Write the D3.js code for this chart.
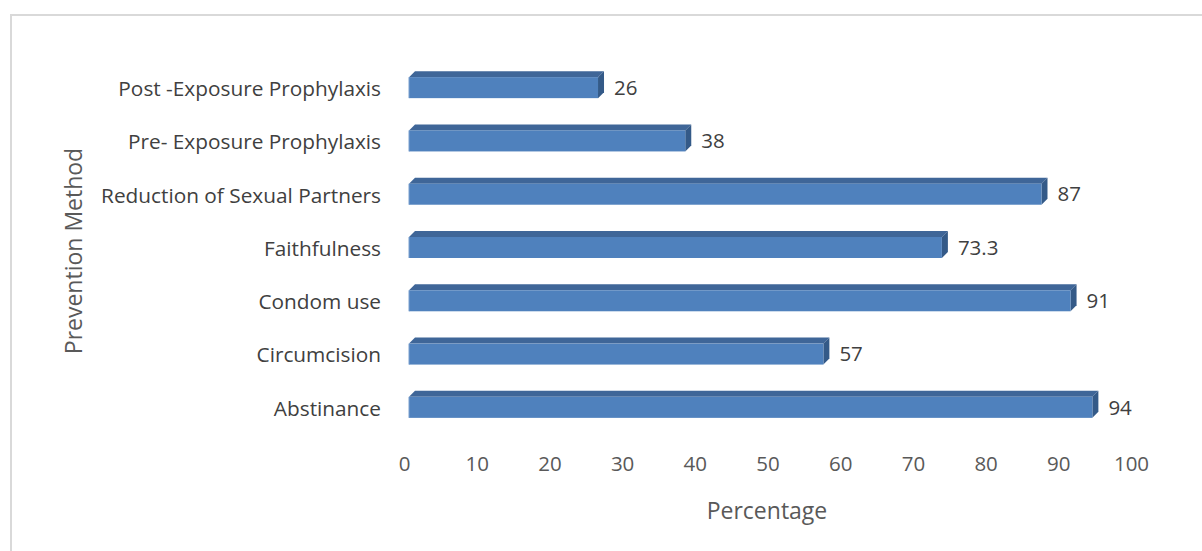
<!DOCTYPE html>
<html><head><meta charset="utf-8">
<script src="https://cdn.jsdelivr.net/npm/d3@7"></script>
<style>body{margin:0;background:#fff}svg{display:block}text{font-family:"Open Sans",Lato,sans-serif}</style>
</head><body>
<svg id="c" width="1202" height="551"></svg>
<script>
const categories = ["Post -Exposure Prophylaxis","Pre- Exposure Prophylaxis","Reduction of Sexual Partners","Faithfulness","Condom use","Circumcision","Abstinance"];
const values = [26, 38, 87, 73.3, 91, 57, 94];
const valueLabels = ["26","38","87","73.3","91","57","94"];
const ticks = [0,10,20,30,40,50,60,70,80,90,100];
const xTitle = "Percentage";
const yTitle = "Prevention Method";

const svg = d3.select("#c");
svg.append("rect").attr("x",11).attr("y",15).attr("width",1200).attr("height",545)
  .attr("fill","#fff").attr("stroke","#d9d9d9").attr("stroke-width",2);

const x = d3.scaleLinear().domain([0,100]).range([406,1133]);
const y = d3.scaleBand().domain(categories).range([61,434]).paddingInner(0.6).paddingOuter(0.3);
const off = 3, dep = 6;

const g = svg.append("g");
categories.forEach((c,i)=>{
  const v = values[i];
  const x0 = x(0)+off, x1 = x(v)+off;
  const h = 21;
  const yc = y(c)+y.bandwidth()/2;
  const top = yc - h/2;
  g.append("path").attr("d",`M${x0},${top} L${x0+dep},${top-dep} L${x1+dep},${top-dep} L${x1},${top} Z`).attr("fill","#3f6698");
  g.append("path").attr("d",`M${x1},${top} L${x1+dep},${top-dep} L${x1+dep},${top+h-dep} L${x1},${top+h} Z`).attr("fill","#345a88");
  g.append("rect").attr("x",x0).attr("y",top).attr("width",x1-x0).attr("height",h).attr("fill","#4f81bd");
  g.append("line").attr("x1",x0).attr("x2",x0).attr("y1",top).attr("y2",top+h).attr("stroke","#7aa0cf").attr("stroke-width",1);
  g.append("text").attr("x",x1+16).attr("y",yc).attr("dy","0.35em").attr("font-size",20.5).attr("fill","#404040").text(valueLabels[i]);
});

const ya = svg.append("g").attr("transform","translate(381,0)")
  .call(d3.axisLeft(y).tickSize(0).tickPadding(0));
ya.select(".domain").remove();
ya.selectAll("text").attr("font-size",20.8).attr("fill","#404040").attr("font-family","Open Sans").attr("dy","0.4em");

const xa = svg.append("g").attr("transform","translate(-2,458)")
  .call(d3.axisBottom(x).tickValues(ticks).tickSize(0).tickPadding(0));
xa.select(".domain").remove();
xa.selectAll("text").attr("font-size",20.5).attr("fill","#595959").attr("font-family","Open Sans").attr("dy","0.62em");

svg.append("text").attr("x",767).attr("y",511).attr("dy","0.35em").attr("text-anchor","middle")
  .attr("font-size",23).attr("fill","#595959").text(xTitle);
svg.append("text").attr("transform","translate(74,251) rotate(-90)").attr("dy","0.35em").attr("text-anchor","middle")
  .attr("font-size",23).attr("fill","#595959").text(yTitle);
</script>
</body></html>
